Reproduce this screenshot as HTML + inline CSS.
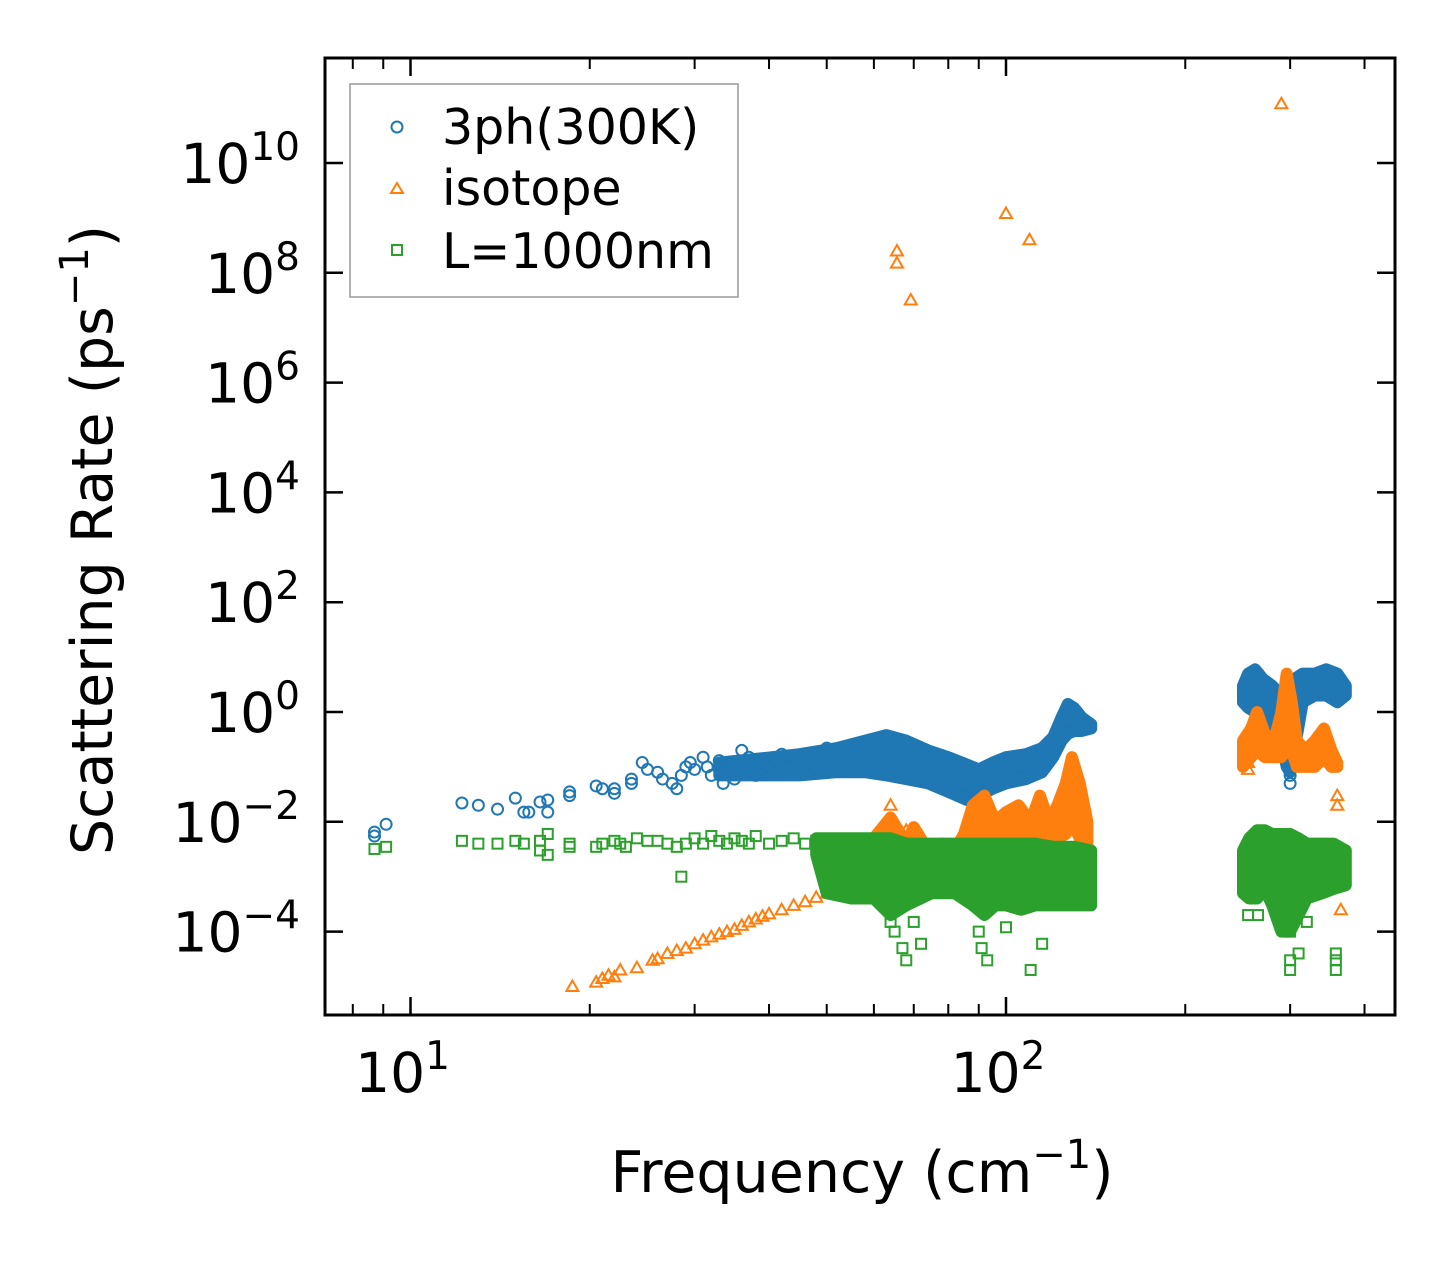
<!DOCTYPE html>
<html><head><meta charset="utf-8"><style>
html,body{margin:0;padding:0;background:#fff;}
svg{display:block;font-family:"DejaVu Sans","Liberation Sans",sans-serif;}
</style></head><body>
<svg id="chart" width="1455" height="1265" viewBox="0 0 1455 1265" xmlns="http://www.w3.org/2000/svg">
<rect x="0" y="0" width="1455" height="1265" fill="#fff"/>
<g id="marks"></g>
<g id="axes"></g>
<rect x="325" y="58" width="1070" height="957" fill="none" stroke="#000" stroke-width="3"/>
<g>
<rect x="350" y="84" width="388" height="213" fill="#fff" stroke="#999" stroke-width="1.5"/>
<g><circle cx="397" cy="127" r="5.5" fill="none" stroke="#1f77b4" stroke-width="2"/><text x="442" y="144" font-size="49">3ph(300K)</text></g>
<g><polygon points="397,183 403,193 391,193" fill="none" stroke="#ff7f0e" stroke-width="2"/><text x="442" y="205" font-size="49">isotope</text></g>
<g><rect x="392" y="245" width="10" height="10" fill="none" stroke="#2ca02c" stroke-width="2"/><text x="442" y="268" font-size="49">L=1000nm</text></g>
</g>
<text x="862" y="1192" font-size="57" text-anchor="middle">Frequency (cm<tspan dy="-24" font-size="40">−1</tspan><tspan dy="24">)</tspan></text>
<text transform="translate(112,540) rotate(-90)" font-size="57" text-anchor="middle">Scattering Rate (ps<tspan dy="-24" font-size="40">−1</tspan><tspan dy="24">)</tspan></text>
</svg>
<script>
// ---- data ----
const xTickMajor = [10, 100];
const xTickMinor = [8, 9, 20, 30, 40, 50, 60, 70, 80, 90, 200, 300, 400];
const xTickLabels = ["1", "2"];
const yTickExps = [10, 8, 6, 4, 2, 0, -2, -4];
const yTickLabels = ["10", "8", "6", "4", "2", "0", "−2", "−4"];

const blueFreq = [8.7,8.7,9.1,12.2,13,14,15,15.5,15.8,16.5,17,17,18.5,18.5,20.5,21,22,22,23.5,23.5,24.5,25,26,26.5,27.5,28,28.5,29,29.5,30,31,31.5,32,33,33.5,34,35,36,36.5,37,38,39,40,42,44,46,48,50,52,55,58,62,66,70,75,80,85,88,95,105,115,125,300,300,300,255,265,340];
const blueRate = [0.0065,0.0055,0.009,0.022,0.02,0.017,0.027,0.015,0.015,0.023,0.025,0.015,0.035,0.03,0.045,0.04,0.04,0.033,0.06,0.05,0.12,0.09,0.08,0.06,0.05,0.04,0.07,0.1,0.12,0.09,0.15,0.1,0.07,0.13,0.05,0.11,0.06,0.2,0.09,0.15,0.07,0.13,0.1,0.17,0.12,0.15,0.09,0.22,0.12,0.2,0.15,0.35,0.3,0.12,0.1,0.08,0.05,0.035,0.06,0.1,0.2,0.5,0.05,0.07,0.09,2.3,5,4];
const blueBandFreq = [33,38,45,52,58,63,68,74,80,86,90,95,100,108,115,120,124,127,130,134,139];
const blueBandLo = [0.07,0.07,0.07,0.08,0.08,0.07,0.06,0.05,0.035,0.025,0.03,0.04,0.05,0.06,0.08,0.15,0.3,0.4,0.45,0.45,0.5];
const blueBandHi = [0.12,0.14,0.17,0.22,0.3,0.38,0.3,0.2,0.15,0.11,0.09,0.12,0.15,0.17,0.22,0.35,0.8,1.4,1.2,0.8,0.6];
const blueBand2Freq = [250,255,262,270,280,290,296,300,305,315,330,345,360,372];
const blueBand2Lo = [1.5,1.2,1,0.8,0.5,0.3,0.1,0.08,0.2,1.5,2,2,1.5,2];
const blueBand2Hi = [3,5,6,4,3,2,2,2,4,5,5,6,5,3];

const orangeFreq = [65.6,65.6,69.2,100,109.5,290,18.7,20.5,21,21.5,22,22.5,24,25.5,26,27,28,29,30,31,32,33,34,35,36,37,38,39,40,42,44,46,48,50,52,54,56,58,64,68,61,135,135,135,360,360,365,255,255];
const orangeRate = [2.5e8,1.5e8,3.2e7,1.2e9,4e8,1.2e11,1e-5,1.2e-5,1.4e-5,1.6e-5,1.5e-5,2e-5,2.2e-5,3e-5,3.2e-5,4e-5,4.5e-5,5e-5,6e-5,7e-5,8e-5,9e-5,1e-4,1.1e-4,1.3e-4,1.5e-4,1.7e-4,1.9e-4,2.1e-4,2.5e-4,3e-4,3.5e-4,4.2e-4,5e-4,6e-4,7e-4,8e-4,9e-4,0.02,0.007,0.003,0.004,0.007,0.002,0.02,0.03,2.5e-4,0.09,0.12];
const orangeBandFreq = [55,60,64,68,70,74,78,82,85,88,92,96,100,105,110,114,118,122,126,129,133,137];
const orangeBandLo = [8e-4,1e-3,1e-3,1e-3,1e-3,1e-3,1e-3,1e-3,2e-3,2e-3,3e-3,3e-3,3e-3,4e-3,3e-3,4e-3,3e-3,5e-3,6e-3,0.01,5e-3,3e-3];
const orangeBandHi = [3e-3,5e-3,0.012,0.004,0.008,0.003,0.004,0.003,0.006,0.02,0.03,0.01,0.015,0.02,0.01,0.03,0.01,0.02,0.05,0.15,0.05,0.01];
const orangeBand2Freq = [250,258,264,272,282,290,296,302,308,318,330,342,352,360];
const orangeBand2Lo = [0.1,0.15,0.2,0.15,0.15,0.15,0.2,0.2,0.1,0.1,0.1,0.15,0.1,0.1];
const orangeBand2Hi = [0.3,0.5,1.0,0.4,0.3,1.0,5,1.5,0.3,0.2,0.3,0.5,0.2,0.12];

const greenFreq = [8.7,9.1,12.2,13,14,15,15.5,16.5,16.5,17,17,18.5,18.5,20.5,21,22,22.5,23,24,25,26,27,28,28.5,29,30,31,32,33,34,35,36,37,38,40,42,44,46,48,64,65,67,68,70,72,90,91,93,100,110,115,255,265,300,300,300,310,320,358,358,358];
const greenRate = [0.0032,0.0035,0.0045,0.004,0.004,0.0045,0.004,0.0045,0.003,0.006,0.0025,0.004,0.0035,0.0035,0.004,0.0045,0.004,0.0035,0.005,0.0045,0.0045,0.004,0.0035,0.001,0.004,0.005,0.004,0.0055,0.0045,0.004,0.005,0.0045,0.004,0.0055,0.004,0.0045,0.005,0.004,0.0045,1.5e-4,1e-4,5e-5,3e-5,1.5e-4,6e-5,1e-4,5e-5,3e-5,1.2e-4,2e-5,6e-5,2e-4,2e-4,1e-4,3e-5,2e-5,4e-5,1.5e-4,4e-5,2e-5,3e-5];
const greenBandFreq = [48,50,55,60,64,68,75,82,88,92,96,100,106,112,120,130,139];
const greenBandLo = [2.5e-3,5e-4,4e-4,4e-4,2e-4,3e-4,5e-4,5e-4,3e-4,2e-4,3e-4,3e-4,2.5e-4,3e-4,3e-4,3e-4,3e-4];
const greenBandHi = [5e-3,5e-3,5e-3,5e-3,5e-3,4e-3,4e-3,4e-3,4e-3,4e-3,4e-3,4e-3,4e-3,4e-3,3.5e-3,3.5e-3,3e-3];
const greenBand2Freq = [250,256,264,272,280,290,300,310,320,340,355,372];
const greenBand2Lo = [5e-4,4e-4,4e-4,6e-4,3e-4,1e-4,1e-4,2e-4,4e-4,5e-4,6e-4,7e-4];
const greenBand2Hi = [3e-3,5e-3,7e-3,7e-3,6e-3,6e-3,6e-3,5e-3,4e-3,4e-3,4e-3,3e-3];

// ---- scales ----
const X0 = 410.5, XDEC = 595.5, Y0 = 712, YDEC = 54.9;
function xs(f){ return X0 + (Math.log10(f) - 1) * XDEC; }
function ys(v){ return Y0 - Math.log10(v) * YDEC; }
const NS = "http://www.w3.org/2000/svg";
const marks = document.getElementById('marks');
const axes = document.getElementById('axes');
function mk(tag, attrs, parent){
  const e = document.createElementNS(NS, tag);
  for (const k in attrs) e.setAttribute(k, attrs[k]);
  parent.appendChild(e); return e;
}
const clip = mk('clipPath', {id:'pc'}, marks);
mk('rect', {x:325, y:58, width:1070, height:957}, clip);
const plot = mk('g', {'clip-path':'url(#pc)'}, marks);

function band(fr, lo, hi, color, name){
  let pts = [];
  for (let i=0;i<fr.length;i++) pts.push(xs(fr[i]).toFixed(1)+','+ys(hi[i]).toFixed(1));
  for (let i=fr.length-1;i>=0;i--) pts.push(xs(fr[i]).toFixed(1)+','+ys(lo[i]).toFixed(1));
  const p = mk('polygon', {points:pts.join(' '), fill:color, stroke:color, 'stroke-width':12, 'stroke-linejoin':'round'}, plot);
  
  
}
function scatter(fr, vals, kind, color, name){
  const g = mk('g', {fill:'none', stroke:color, 'stroke-width':2}, plot);
  
  
  for (let i=0;i<fr.length;i++){
    const x = xs(fr[i]), y = ys(vals[i]);
    let e;
    if (kind==='c') e = mk('circle', {cx:x, cy:y, r:5.5}, g);
    else if (kind==='t') e = mk('polygon', {points:`${x},${y-6} ${x+6},${y+4.5} ${x-6},${y+4.5}`}, g);
    else e = mk('rect', {x:x-5, y:y-5, width:10, height:10}, g);
    
    
  }
}
band(blueBandFreq, blueBandLo, blueBandHi, '#1f77b4', 'band-3ph-low');
band(blueBand2Freq, blueBand2Lo, blueBand2Hi, '#1f77b4', 'band-3ph-high');
scatter(blueFreq, blueRate, 'c', '#1f77b4', 'series-3ph');
band(orangeBandFreq, orangeBandLo, orangeBandHi, '#ff7f0e', 'band-isotope-low');
band(orangeBand2Freq, orangeBand2Lo, orangeBand2Hi, '#ff7f0e', 'band-isotope-high');
scatter(orangeFreq, orangeRate, 't', '#ff7f0e', 'series-isotope');
band(greenBandFreq, greenBandLo, greenBandHi, '#2ca02c', 'band-boundary-low');
band(greenBand2Freq, greenBand2Lo, greenBand2Hi, '#2ca02c', 'band-boundary-high');
scatter(greenFreq, greenRate, 's', '#2ca02c', 'series-boundary');

// ---- axes ----
xTickMajor.forEach((f,i)=>{
  const x = xs(f);
  const t1 = mk('line', {x1:x, x2:x, y1:1015, y2:997, stroke:'#000','stroke-width':2.5}, axes);
  
  
  mk('line', {x1:x, x2:x, y1:58, y2:76, stroke:'#000','stroke-width':2.5}, axes);
  const t = mk('text', {x:x-8, y:1092, 'font-size':55, 'text-anchor':'middle'}, axes);
  
  
  t.textContent = '10';
  const s = mk('tspan', {dy:-23, 'font-size':39}, t); s.textContent = xTickLabels[i];
});
xTickMinor.forEach(f=>{
  const x = xs(f);
  const t1 = mk('line', {x1:x, x2:x, y1:1015, y2:1004, stroke:'#000','stroke-width':2}, axes);
  
  
  mk('line', {x1:x, x2:x, y1:58, y2:69, stroke:'#000','stroke-width':2}, axes);
});
yTickExps.forEach((e,i)=>{
  const y = Y0 - e*YDEC;
  const t1 = mk('line', {x1:325, x2:343, y1:y, y2:y, stroke:'#000','stroke-width':2.5}, axes);
  
  
  mk('line', {x1:1395, x2:1377, y1:y, y2:y, stroke:'#000','stroke-width':2.5}, axes);
  const t = mk('text', {x:300, y:y+20, 'font-size':55, 'text-anchor':'end'}, axes);
  
  
  t.textContent = '10';
  const s = mk('tspan', {dy:-23, 'font-size':39}, t); s.textContent = yTickLabels[i];
});
</script>
</body></html>
